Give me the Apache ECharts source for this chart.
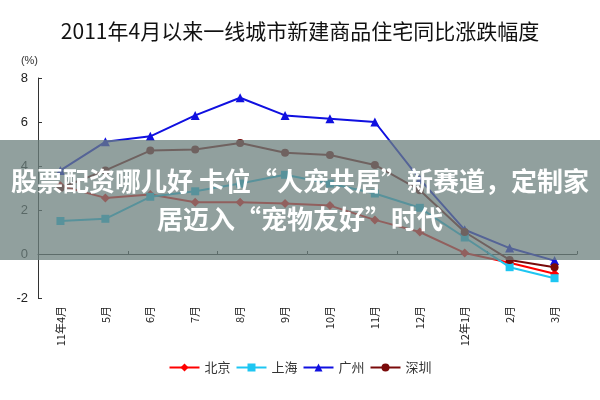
<!DOCTYPE html>
<html>
<head>
<meta charset="utf-8">
<script src="https://cdn.jsdelivr.net/npm/echarts@6/dist/echarts.min.js"></script>
<style>
  html, body { margin: 0; padding: 0; background: #fff; }
  #main { width: 600px; height: 400px; }
</style>
</head>
<body>
<div id="main"></div>
<script>
// 月份
const months = ['11年4月', '5月', '6月', '7月', '8月', '9月', '10月', '11月', '12月', '12年1月', '2月', '3月']
// 同比涨跌幅 (%)
const beijing = [3.1, 2.55, 2.7, 2.35, 2.35, 2.3, 2.2, 1.55, 1.0, 0.05, -0.4, -0.9]
const shanghai = [1.5, 1.6, 2.6, 2.85, 3.2, 3.6, 3.2, 2.75, 2.1, 0.75, -0.6, -1.1]
const guangzhou = [3.8, 5.1, 5.35, 6.3, 7.1, 6.3, 6.15, 6.0, 3.4, 1.1, 0.27, -0.3]
const shenzhen = [3.0, 3.8, 4.7, 4.75, 5.05, 4.6, 4.5, 4.05, 2.9, 1.0, -0.27, -0.6]

const titleText = '2011年4月以来一线城市新建商品住宅同比涨跌幅度'
const bannerLines = ['股票配资哪儿好 卡位“人宠共居”新赛道，定制家', '居迈入“宠物友好”时代']

const cjk = '"Noto Sans CJK SC", sans-serif'

const chart = echarts.init(document.getElementById('main'))

function line(name, data, color, symbol, size) {
  return {
    name: name,
    type: 'line',
    data: data,
    symbol: symbol,
    symbolSize: size,
    lineStyle: { color: color, width: 2 },
    itemStyle: { color: color },
    z: 3
  }
}

const option = {
  animation: false,
  title: {
    text: titleText,
    left: 'center',
    top: 16,
    textStyle: { fontFamily: cjk, fontSize: 21, fontWeight: 'normal', color: '#111' }
  },
  legend: {
    bottom: 21,
    left: 'center',
    itemWidth: 30,
    itemHeight: 10,
    itemGap: 5,
    textStyle: { fontFamily: cjk, fontSize: 13, color: '#333' },
    data: ['北京', '上海', '广州', '深圳']
  },
  grid: { left: 38, right: 23, top: 78, bottom: 102, containLabel: false },
  xAxis: [
    {
      type: 'category',
      data: months,
      position: 'bottom',
      axisLine: { show: false, onZero: false },
      axisTick: { show: false },
      axisLabel: {
        rotate: 90,
        interval: 0,
        margin: 8,
        fontFamily: cjk,
        fontSize: 11,
        color: '#222'
      }
    },
    {
      type: 'category',
      data: months,
      position: 'top',
      axisLine: { show: true, onZero: true, lineStyle: { color: '#333', width: 1 } },
      axisTick: { show: true, inside: false, length: 3, lineStyle: { color: '#333' } },
      axisLabel: { show: false }
    }
  ],
  yAxis: {
    type: 'value',
    min: -2,
    max: 8,
    interval: 2,
    name: '(%)',
    nameLocation: 'end',
    nameGap: 12,
    nameTextStyle: { fontSize: 11, color: '#333', align: 'right' },
    axisLine: { show: true, lineStyle: { color: '#333', width: 1 } },
    axisTick: { show: true, inside: true, length: 4, lineStyle: { color: '#333' } },
    axisLabel: { fontFamily: 'Liberation Sans, Arial, sans-serif', fontSize: 13, color: '#222', margin: 10 },
    splitLine: { show: false }
  },
  series: [
    line('北京', beijing, '#ff0000', 'diamond', 9),
    line('上海', shanghai, '#1ec6f2', 'rect', 8),
    line('广州', guangzhou, '#1010e0', 'triangle', 9),
    line('深圳', shenzhen, '#7a0a0a', 'circle', 8)
  ],
  graphic: [
    {
      type: 'rect',
      left: 0,
      top: 140,
      shape: { width: 600, height: 120 },
      style: { fill: 'rgba(108,128,126,0.75)' },
      z: 100
    },
    {
      type: 'text',
      left: 'center',
      top: 168,
      style: { text: bannerLines[0], fill: '#fff', font: 'bold 26px "Noto Sans CJK SC", sans-serif' },
      z: 101
    },
    {
      type: 'text',
      left: 'center',
      top: 206,
      style: { text: bannerLines[1], fill: '#fff', font: 'bold 26px "Noto Sans CJK SC", sans-serif' },
      z: 101
    }
  ]
}

chart.setOption(option)
</script>
</body>
</html>
